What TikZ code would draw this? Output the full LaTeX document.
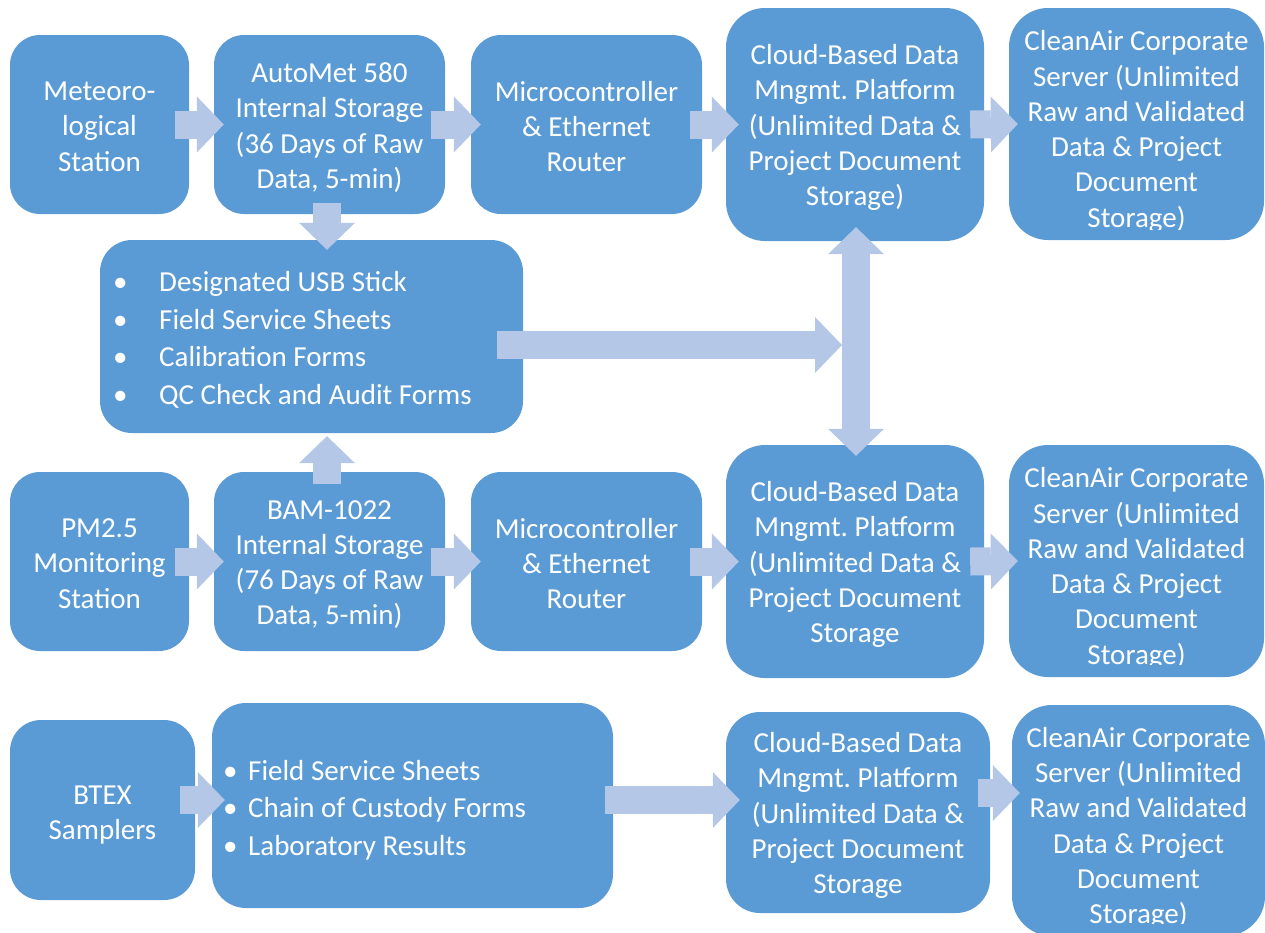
\documentclass[tikz,border=0pt]{standalone}
\usepackage{fontspec}
\setmainfont{Carlito}
\usetikzlibrary{arrows.meta}
\definecolor{boxc}{HTML}{5B9BD5}
\definecolor{arrc}{HTML}{B4C7E7}
\frenchspacing
\newcommand\boxfont{\fontsize{29}{35.25}\selectfont\frenchspacing}
\newcommand\listfont{\fontsize{29}{37.5}\selectfont\frenchspacing}
\newcommand\mystrut{\rule[-1pt]{0pt}{37pt}}
\newcommand\bla{\makebox[46pt][l]{•}}
\newcommand\blb{\makebox[25pt][l]{•}}
\tikzset{
  box/.style={fill=boxc, draw=none, rounded corners=#1, inner sep=0pt},
  box/.default=30pt,
  txt/.style={inner sep=0pt, text=white, align=center, font=\boxfont,
    execute at begin node=\mystrut, execute at end node=\mystrut},
  listtxt/.style={inner sep=0pt, text=white, align=left, font=\listfont,
    execute at begin node=\mystrut, execute at end node=\mystrut},
  tipb/.tip={Triangle[width=56pt,length=27pt,line width=0pt]},
  bigarrow/.style={draw=arrc, line width=28pt, -tipb},
  bigarrows/.style={draw=arrc, line width=28pt, tipb-tipb},
}
\begin{document}
\begin{tikzpicture}[x=1pt,y=-1pt]
\useasboundingbox (0,0) rectangle (1265,932);

% Row 1
\node[box, minimum width=179pt, minimum height=179pt] (met) at (99.5,124.5) {};
\node[txt] (mett) at ([yshift=-2.5pt]met.center) {Meteoro-\\logical\\Station};
\node[box, minimum width=231pt, minimum height=179pt] (auto) at (329.5,124.5) {};
\node[txt] (autot) at ([yshift=-3pt]auto.center) {AutoMet 580\\Internal Storage\\(36 Days of Raw\\Data, 5-min)};
\node[box, minimum width=231pt, minimum height=179pt] (micro1) at (586.5,124.5) {};
\node[txt] (micro1t) at ([yshift=-2.5pt]micro1.center) {Microcontroller\\\& Ethernet\\Router};
\node[box=39pt, minimum width=258pt, minimum height=233pt] (cloud1) at (855,124.5) {};
\node[txt] (cloud1t) at ([yshift=-3pt]cloud1.center) {Cloud-Based Data\\Mngmt. Platform\\(Unlimited Data \&\\Project Document\\Storage)};
\node[box=39pt, minimum width=255pt, minimum height=232pt] (clean1) at (1136.5,124) {};
\begin{scope}
  \clip (clean1.north west) rectangle ([yshift=11pt]clean1.south east);
  \node[txt] (clean1t) at (1136.5,131.5) {CleanAir Corporate\\Server (Unlimited\\Raw and Validated\\Data \& Project\\Document\\Storage)};
\end{scope}

% Row 2
\node[box=32pt, minimum width=423pt, minimum height=193pt] (usb) at (311.5,336.5) {};
\node[listtxt, anchor=west] (usbt) at (113,340) {\bla Designated USB Stick\\\bla Field Service Sheets\\\bla Calibration Forms\\\bla QC Check and Audit Forms};

% Row 3
\node[box, minimum width=179pt, minimum height=179pt] (pm) at (99.5,561.5) {};
\node[txt] (pmt) at ([yshift=-2.5pt]pm.center) {PM2.5\\Monitoring\\Station};
\node[box, minimum width=231pt, minimum height=179pt] (bam) at (329.5,561.5) {};
\node[txt] (bamt) at ([yshift=-3pt]bam.center) {BAM-1022\\Internal Storage\\(76 Days of Raw\\Data, 5-min)};
\node[box, minimum width=231pt, minimum height=179pt] (micro2) at (586.5,561.5) {};
\node[txt] (micro2t) at ([yshift=-2.5pt]micro2.center) {Microcontroller\\\& Ethernet\\Router};
\node[box=39pt, minimum width=258pt, minimum height=233pt] (cloud2) at (855,561.5) {};
\node[txt] (cloud2t) at ([yshift=-3pt]cloud2.center) {Cloud-Based Data\\Mngmt. Platform\\(Unlimited Data \&\\Project Document\\Storage};
\node[box=39pt, minimum width=255pt, minimum height=232pt] (clean2) at (1136.5,561) {};
\begin{scope}
  \clip (clean2.north west) rectangle ([yshift=13pt]clean2.south east);
  \node[txt] (clean2t) at (1136.5,568.5) {CleanAir Corporate\\Server (Unlimited\\Raw and Validated\\Data \& Project\\Document\\Storage)};
\end{scope}

% Row 4
\node[box=31pt, minimum width=185pt, minimum height=180pt] (btex) at (102.5,810) {};
\node[txt] (btext) at ([yshift=-5pt]btex.center) {BTEX\\Samplers};
\node[box=34pt, minimum width=401pt, minimum height=205pt] (docs) at (412.5,805.5) {};
\node[listtxt, anchor=west] (docst) at (223,810) {\blb Field Service Sheets\\\blb Chain of Custody Forms\\\blb Laboratory Results};
\node[box=34pt, minimum width=264pt, minimum height=201pt] (cloud3) at (858,812.5) {};
\node[txt] (cloud3t) at ([yshift=-3pt]cloud3.center) {Cloud-Based Data\\Mngmt. Platform\\(Unlimited Data \&\\Project Document\\Storage};
\node[box=40pt, minimum width=253pt, minimum height=231pt] (clean3) at (1138.5,820.5) {};
\begin{scope}
  \clip (clean3.north west) rectangle ([yshift=13pt]clean3.south east);
  \node[txt] (clean3t) at (1138.5,828) {CleanAir Corporate\\Server (Unlimited\\Raw and Validated\\Data \& Project\\Document\\Storage)};
\end{scope}

% Arrows row 1
\draw[bigarrow] ([xshift=-14pt]met.east) -- ([xshift=10pt]auto.west);
\draw[bigarrow] ([xshift=-14pt]auto.east) -- ([xshift=10pt]micro1.west);
\draw[bigarrow] ([xshift=-12pt]micro1.east) -- ([xshift=13pt]cloud1.west);
\draw[bigarrow] ([xshift=-14pt]cloud1.east) -- ([xshift=9pt]clean1.west);
% Arrows row 3
\draw[bigarrow] ([xshift=-14pt]pm.east) -- ([xshift=10pt]bam.west);
\draw[bigarrow] ([xshift=-14pt]bam.east) -- ([xshift=10pt]micro2.west);
\draw[bigarrow] ([xshift=-12pt]micro2.east) -- ([xshift=13pt]cloud2.west);
\draw[bigarrow] ([xshift=-14pt]cloud2.east) -- ([xshift=9pt]clean2.west);
% Vertical arrows
\draw[bigarrow] ([xshift=-2.5pt,yshift=11pt]auto.south) -- ([xshift=15.5pt,yshift=-10pt]usb.north);
\draw[bigarrow] ([xshift=-2.5pt,yshift=-12pt]bam.north) -- ([xshift=15.5pt,yshift=-3pt]usb.south);
\draw[bigarrows] ([xshift=1pt,yshift=14pt]cloud1.south) -- ([xshift=1pt,yshift=-11pt]cloud2.north);
\coordinate (vj) at (842,345);
\draw[bigarrow] ([xshift=-26pt,yshift=-8.5pt]usb.east) -- (vj);
% Arrows row 4
\draw[bigarrow] ([xshift=-15pt,yshift=10pt]btex.east) -- ([xshift=13pt,yshift=5.5pt]docs.west);
\draw[bigarrow] ([xshift=-8pt,yshift=5.5pt]docs.east) -- ([xshift=14pt,yshift=12.5pt]cloud3.west);
\draw[bigarrow] ([xshift=-12pt,yshift=19.5pt]cloud3.east) -- ([xshift=8pt,yshift=27.5pt]clean3.west);
\end{tikzpicture}
\end{document}
